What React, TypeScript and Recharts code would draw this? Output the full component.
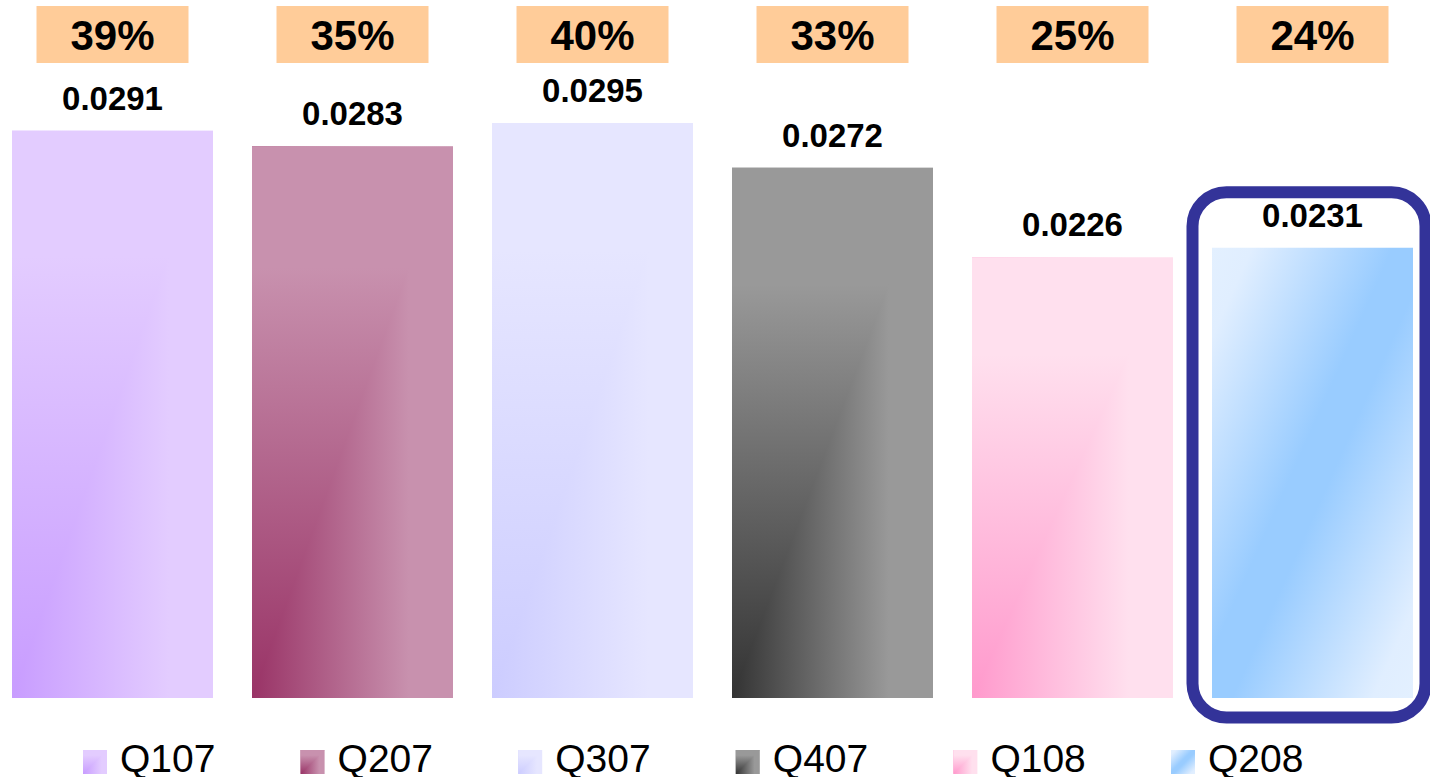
import React from 'react';
import { BarChart, Bar, XAxis, YAxis, LabelList } from 'recharts';

const categories = ['Q107', 'Q207', 'Q307', 'Q407', 'Q108', 'Q208'];
const values = [0.0291, 0.0283, 0.0295, 0.0272, 0.0226, 0.0231];
const shares = [39, 35, 40, 33, 25, 24];
const darkColors = ['#C89CFF', '#993366', '#CCCCFF', '#333333', '#FF99CC', '#99CCFF'];
const lightColors = ['#E3CCFF', '#C891AE', '#E6E6FF', '#999999', '#FFE0EE', '#E0EEFF'];
const highlightIndex = 5;

const data = categories.map((name, i) => ({ name, value: values[i], share: shares[i] }));

const FONT = '"Liberation Sans", Arial, sans-serif';

function GradientRect({ x, y, width, height, index, idPrefix }: any) {
  const dark = darkColors[index];
  const light = lightColors[index];
  if (index === highlightIndex) {
    const gid = `${idPrefix}-d-${index}`;
    return (
      <g>
        <defs>
          <linearGradient id={gid} x1="0" y1="0" x2="1" y2="1">
            <stop offset="0" stopColor="#E3F0FF" />
            <stop offset="0.1" stopColor={light} />
            <stop offset="0.45" stopColor={dark} />
            <stop offset="0.55" stopColor={dark} />
            <stop offset="0.9" stopColor={light} />
            <stop offset="1" stopColor="#E3F0FF" />
          </linearGradient>
        </defs>
        <rect x={x} y={y} width={width} height={height} fill={`url(#${gid})`} />
      </g>
    );
  }
  const hid = `${idPrefix}-h-${index}`;
  const vid = `${idPrefix}-v-${index}`;
  return (
    <g>
      <defs>
        <linearGradient id={hid} x1="0" y1="0" x2="1" y2="0">
          <stop offset="0" stopColor={dark} />
          <stop offset="0.78" stopColor={light} />
          <stop offset="1" stopColor={light} />
        </linearGradient>
        <linearGradient id={vid} x1="0" y1="1" x2="0" y2="0">
          <stop offset="0" stopColor={dark} />
          <stop offset="0.78" stopColor={light} />
          <stop offset="1" stopColor={light} />
        </linearGradient>
      </defs>
      <rect x={x} y={y} width={width} height={height} fill={`url(#${hid})`} />
      <polygon
        points={`${x},${y} ${x + width},${y} ${x},${y + height}`}
        fill={`url(#${vid})`}
      />
    </g>
  );
}

function BarShape(props: any) {
  const { x, y, width, height, index } = props;
  return (
    <g>
      <GradientRect x={x} y={y} width={width} height={height} index={index} idPrefix="bar" />
      {index === highlightIndex && (
        <rect
          x={x - 19.5}
          y={y - 55.5}
          width={width + 32}
          height={height + 75}
          rx={34}
          ry={34}
          fill="none"
          stroke="#333399"
          strokeWidth={12}
        />
      )}
    </g>
  );
}

function ShareBox(props: any) {
  const x = props.x ?? props.viewBox?.x;
  const width = props.width ?? props.viewBox?.width;
  const cx = x + width / 2;
  return (
    <g>
      <rect x={cx - 76} y={6} width={152} height={57} fill="#FFCC99" />
      <text
        x={cx}
        y={50}
        textAnchor="middle"
        fontFamily={FONT}
        fontWeight="bold"
        fontSize={42}
        fill="#000"
      >
        {`${props.value}%`}
      </text>
    </g>
  );
}

function LegendRow() {
  const pitch = 217.6;
  return (
    <svg width={1430} height={42} style={{ position: 'absolute', left: 0, top: 735 }}>
      {categories.map((c, i) => {
        const lx = 83 + i * pitch;
        return (
          <g key={c}>
            <GradientRect x={lx} y={15} width={24} height={24} index={i} idPrefix="leg" />
            <text x={lx + 37} y={37} fontFamily={FONT} fontSize={39} fill="#000">
              {c}
            </text>
          </g>
        );
      })}
    </svg>
  );
}

export default function App() {
  return (
    <div
      style={{
        position: 'fixed',
        left: 0,
        top: 0,
        width: 1430,
        height: 777,
        overflow: 'hidden',
        background: '#fff',
      }}
    >
      <div style={{ position: 'absolute', left: -8, top: 0 }}>
        <BarChart
          width={1440}
          height={777}
          data={data}
          margin={{ top: 123, right: 0, bottom: 79, left: 0 }}
        >
          <XAxis dataKey="name" hide />
          <YAxis hide domain={[0, 0.0295]} />
          <Bar dataKey="value" barSize={201} isAnimationActive={false} shape={BarShape}>
            <LabelList
              dataKey="value"
              position="top"
              offset={21}
              fontFamily={FONT}
              fontWeight="bold"
              fontSize={33}
              fill="#000"
            />
            <LabelList dataKey="share" content={ShareBox} />
          </Bar>
        </BarChart>
      </div>
      <LegendRow />
    </div>
  );
}
